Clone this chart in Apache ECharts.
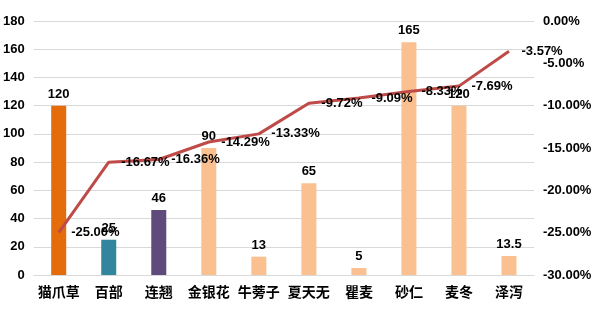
<!DOCTYPE html>
<html>
<head>
<meta charset="utf-8">
<script src="https://cdn.jsdelivr.net/npm/echarts@6/dist/echarts.min.js"></script>
<style>
  html, body { margin: 0; padding: 0; background: #fff; }
  #chart { width: 596px; height: 324px; }
</style>
</head>
<body>
<div id="chart"></div>
<script>
// Herbs, their counts (bars) and percentage change (line, right axis)
const categories = ['猫爪草', '百部', '连翘', '金银花', '牛蒡子', '夏天无', '瞿麦', '砂仁', '麦冬', '泽泻'];
const counts = [120, 25, 46, 90, 13, 65, 5, 165, 120, 13.5];
const changes = [-25.00, -16.67, -16.36, -14.29, -13.33, -9.72, -9.09, -8.33, -7.69, -3.57];
const barColors = ['#E46C0A', '#31859C', '#604A7B', '#FAC090', '#FAC090', '#FAC090', '#FAC090', '#FAC090', '#FAC090', '#FAC090'];
const leftTicks = { min: 0, max: 180, interval: 20 };
const rightTicks = { min: -30, max: 0, interval: 5 };

const font = 'Arial, "Liberation Sans", "Noto Sans CJK SC", sans-serif';
const chart = echarts.init(document.getElementById('chart'));

chart.setOption({
  animation: false,
  grid: { left: 33, right: 62, top: 21, bottom: 49, containLabel: false },
  xAxis: {
    type: 'category',
    data: categories,
    axisTick: { show: false },
    axisLine: { show: true, lineStyle: { color: '#D9D9D9' } },
    axisLabel: { color: '#000', fontWeight: 'bold', fontSize: 14, margin: 11, fontFamily: font, interval: 0 }
  },
  yAxis: [
    {
      type: 'value',
      min: leftTicks.min, max: leftTicks.max, interval: leftTicks.interval,
      axisLine: { show: false }, axisTick: { show: false },
      splitLine: { lineStyle: { color: '#D9D9D9' } },
      axisLabel: { color: '#000', fontWeight: 'bold', fontSize: 13, margin: 9, fontFamily: font }
    },
    {
      type: 'value',
      min: rightTicks.min, max: rightTicks.max, interval: rightTicks.interval,
      axisLine: { show: false }, axisTick: { show: false },
      splitLine: { show: false },
      axisLabel: {
        color: '#000', fontWeight: 'bold', fontSize: 13, margin: 9, fontFamily: font,
        formatter: v => v.toFixed(2) + '%'
      }
    }
  ],
  series: [
    {
      type: 'bar',
      yAxisIndex: 0,
      barWidth: 15,
      data: counts.map((v, i) => ({ value: v, itemStyle: { color: barColors[i] } })),
      label: {
        show: true, position: 'top', distance: 5,
        color: '#000', fontWeight: 'bold', fontSize: 13, fontFamily: font
      }
    },
    {
      type: 'line',
      yAxisIndex: 1,
      data: changes,
      showSymbol: true,
      symbol: 'circle',
      symbolSize: 1,
      itemStyle: { color: 'rgba(0,0,0,0)' },
      lineStyle: { color: '#BE4B48', width: 3 },
      label: {
        show: true, position: 'right', distance: 12,
        color: '#000', fontWeight: 'bold', fontSize: 13, fontFamily: font,
        formatter: p => p.value.toFixed(2) + '%'
      },
      z: 3
    }
  ]
});
</script>
</body>
</html>
